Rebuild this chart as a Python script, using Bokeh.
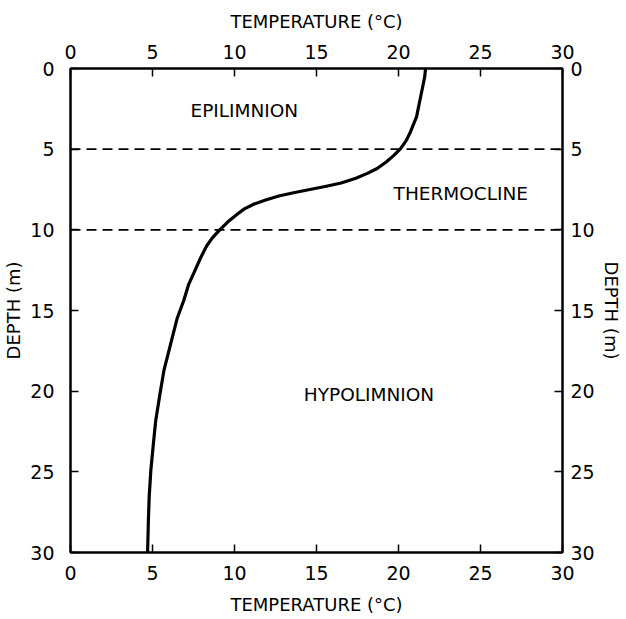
from bokeh.plotting import figure
from bokeh.models import LinearAxis, Range1d, Span, FixedTicker, ColumnDataSource
from bokeh.core.properties import value
from bokeh.embed import file_html
from bokeh.resources import INLINE

# ---- data ----
TICKS = [0, 5, 10, 15, 20, 25, 30]
DEPTH_M = [0, 0.5, 1.5, 2, 3, 3.5, 4, 4.5, 5, 5.4, 5.8, 6.2, 6.5, 6.8, 7.1, 7.3,
           7.5, 7.7, 7.9, 8.15, 8.4, 8.7, 9.0, 9.25, 9.5, 9.75, 10, 10.5, 11,
           11.7, 12.5, 13.4, 14.4, 15.5, 16.7, 17.7, 18.7, 20.2, 21.8, 23.3,
           24.9, 26.5, 28, 30]
TEMP_C = [21.65, 21.6, 21.4, 21.3, 21.1, 20.9, 20.7, 20.45, 20.1, 19.7, 19.25,
          18.7, 18.1, 17.4, 16.5, 15.6, 14.6, 13.6, 12.7, 11.9, 11.2, 10.6,
          10.2, 9.9, 9.6, 9.35, 9.1, 8.65, 8.3, 7.95, 7.6, 7.2, 6.9, 6.5, 6.2,
          5.95, 5.7, 5.45, 5.2, 5.05, 4.9, 4.8, 4.75, 4.7]
LAYER_BOUNDS = [5, 10]
LAYER_NAMES = ["EPILIMNION", "THERMOCLINE", "HYPOLIMNION"]
LAYER_LABEL_T = [10.6, 23.8, 18.2]
LAYER_LABEL_D = [2.6, 7.75, 20.2]

FONT = "DejaVu Sans"

p = figure(frame_width=492, frame_height=484, x_range=Range1d(0, 30), y_range=Range1d(30, 0),
           output_backend="svg", toolbar_location=None,
           min_border_left=61, min_border_right=57, min_border_top=68, min_border_bottom=58)
p.grid.visible = False
p.outline_line_color = "black"
p.outline_line_width = 2
p.background_fill_color = "white"
p.border_fill_color = "white"

top_axis = LinearAxis()
right_axis = LinearAxis()
p.add_layout(top_axis, "above")
p.add_layout(right_axis, "right")

def style(ax, title, label_standoff, title_standoff):
    ax.ticker = FixedTicker(ticks=TICKS)
    ax.axis_label = title
    ax.axis_label_text_font = FONT
    ax.axis_label_text_font_size = "18px"
    ax.axis_label_text_font_style = "normal"
    ax.axis_label_text_color = "black"
    ax.axis_label_standoff = title_standoff
    ax.major_label_text_font = FONT
    ax.major_label_text_font_size = "19px"
    ax.major_label_text_color = "black"
    ax.major_label_standoff = label_standoff
    ax.major_tick_in = 8
    ax.major_tick_out = 0
    ax.minor_tick_in = 0
    ax.minor_tick_out = 0
    ax.axis_line_width = 2
    ax.axis_line_color = "black"
    ax.major_tick_line_width = 1.5
    ax.major_tick_line_color = "black"

style(top_axis, "TEMPERATURE (°C)", 10, 10)
style(right_axis, "DEPTH (m)", 8, 3)
for ax in p.below:
    style(ax, "TEMPERATURE (°C)", 13, 11)
for ax in p.left:
    style(ax, "DEPTH (m)", 16, 3)

for d in LAYER_BOUNDS:
    p.add_layout(Span(location=d, dimension="width", line_color="black",
                      line_width=1.6, line_dash="10 6"))

src = ColumnDataSource(dict(t=TEMP_C, d=DEPTH_M))
p.line("t", "d", source=src, line_color="black", line_width=3.2, line_join="round")

lab = ColumnDataSource(dict(x=LAYER_LABEL_T, y=LAYER_LABEL_D, txt=LAYER_NAMES))
p.text("x", "y", text="txt", source=lab, text_font=value(FONT), text_font_size="18.5px",
       text_align="center", text_baseline="middle", text_color="black")

open("out.html", "w").write(file_html(p, INLINE))
